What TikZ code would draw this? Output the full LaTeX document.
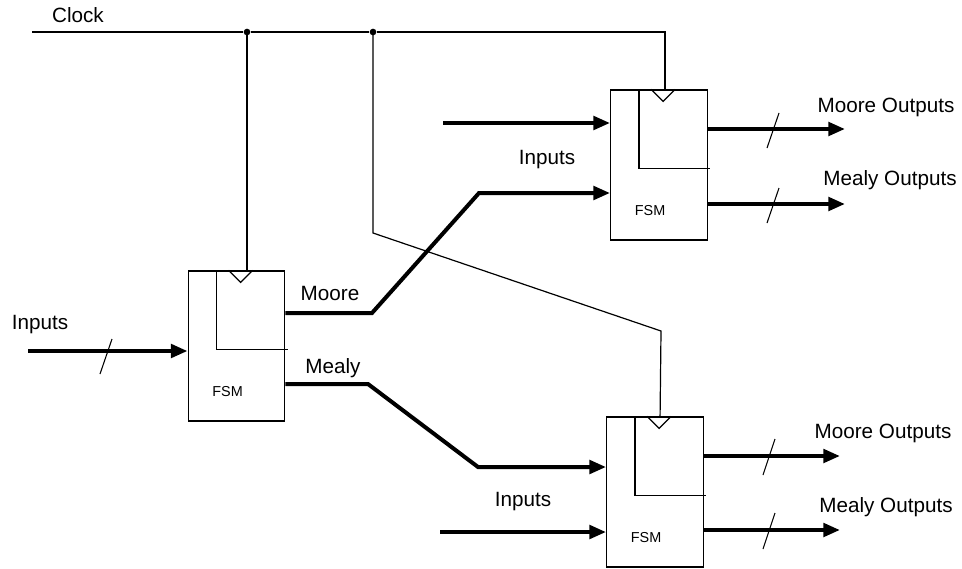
\documentclass[tikz,border=0pt]{standalone}
\usepackage{fontspec}
\setmainfont{Liberation Sans}
\usetikzlibrary{arrows.meta, positioning, calc}

\begin{document}
\begin{tikzpicture}[
  x=0.75pt, y=-0.75pt,
  fsm/.style={
    rectangle, draw, line width=0.9pt,
    minimum width=72.5pt, minimum height=112.5pt, inner sep=0pt},
  wire/.style={line width=0.9pt},
  bus/.style={line width=3pt, -{Triangle[length=12.5pt, width=10pt]}},
  slash/.style={line width=0.8pt},
  dot/.style={circle, fill, inner sep=0pt, minimum size=5pt},
  lbl/.style={font=\fontsize{15.5}{18}\selectfont, inner sep=0pt},
  tag/.style={font=\fontsize{10.8}{13}\selectfont, inner sep=0pt}
]
  \useasboundingbox (0,0) rectangle (962,568);
  % FSM blocks
  \node[fsm] (fsmA) at (236.5,346) {};
  \node[fsm] (fsmB) at (659,165) {};
  \node[fsm] (fsmC) at (655,492) {};
  \foreach \b in {fsmA, fsmB, fsmC} {
    \draw[wire] ($(\b.north west)+(29,0)$) -- ++(0,79)
      -- ($(\b.north east)+(2.5,79)$);
    \draw[wire] ($(\b.north west)+(41,0)$) -- ++(12,12) -- ++(12,-12);
    \node[tag] at ($(\b.south west)+(40,-30)$) {FSM};
  }
  % Clock
  \coordinate (clk) at (32,32);
  \node[dot] (j1) at (247,32) {};
  \node[dot] (j2) at (373,32) {};
  \coordinate (kB) at ($(fsmB.north west)+(55,0)$);
  \coordinate (kC) at ($(fsmC.north west)+(54,0)$);
  \coordinate (d1) at (373,233);
  \coordinate (d2) at (661,331);
  \draw[wire] (clk) -- (j1) -- (j2) -| (kB);
  \draw[wire] (j1.center) -- (j1 |- fsmA.north);
  \draw[wire] (j2.center) -- (d1) -- (d2) -- (kC);
  \node[lbl] at (78,15) {Clock};
  % Inputs
  \coordinate (inA) at (28,351);
  \coordinate (inB) at (443,123);
  \coordinate (inC) at (440,532);
  \draw[bus] (inA) -- (inA -| fsmA.west);
  \draw[slash] (112,339) -- (100,374);
  \draw[bus] (inB) -- (inB -| fsmB.west);
  \draw[bus] (inC) -- (inC -| fsmC.west);
  \node[lbl] at (40,325) {Inputs};
  \node[lbl] at (547,160) {Inputs};
  \node[lbl] at (523,502) {Inputs};
  % Moore / Mealy links
  \coordinate (mo1) at (372,313);
  \coordinate (mo2) at (479,193);
  \coordinate (me1) at (368,384);
  \coordinate (me2) at (478,467);
  \draw[bus] (mo1 -| fsmA.east) -- (mo1) -- (mo2) -- (mo2 -| fsmB.west);
  \draw[bus] (me1 -| fsmA.east) -- (me1) -- (me2) -- (me2 -| fsmC.west);
  \node[lbl] at (330,293) {Moore};
  \node[lbl] at (333,368) {Mealy};
  % Outputs
  \coordinate (oB1) at (845,129);
  \coordinate (oB2) at (845,204);
  \coordinate (oC1) at (840,456);
  \coordinate (oC2) at (840,530);
  \draw[bus] (oB1 -| fsmB.east) -- (oB1);
  \draw[bus] (oB2 -| fsmB.east) -- (oB2);
  \draw[bus] (oC1 -| fsmC.east) -- (oC1);
  \draw[bus] (oC2 -| fsmC.east) -- (oC2);
  \draw[slash] (779,113) -- ++(-12,35);
  \draw[slash] (779,188) -- ++(-12,35);
  \draw[slash] (775,439) -- ++(-12,36);
  \draw[slash] (775,513) -- ++(-12,36);
  \node[lbl] at (886,107) {Moore Outputs};
  \node[lbl] at (890,180) {Mealy Outputs};
  \node[lbl] at (883,433) {Moore Outputs};
  \node[lbl] at (886,507) {Mealy Outputs};
\end{tikzpicture}
\end{document}
